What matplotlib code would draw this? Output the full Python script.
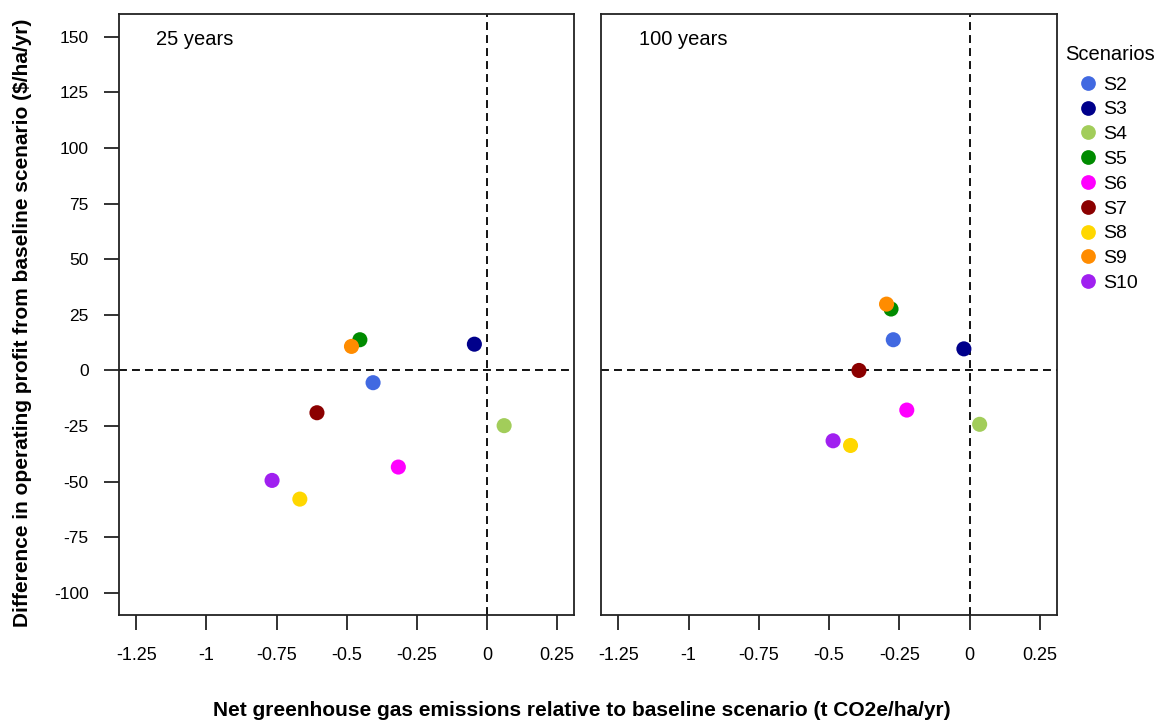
import matplotlib
matplotlib.use("Agg")
import matplotlib.pyplot as plt
from matplotlib.lines import Line2D

plt.rcParams['font.family'] = ['Liberation Sans', 'DejaVu Sans']

scenarios = ["S2", "S3", "S4", "S5", "S6", "S7", "S8", "S9", "S10"]
colors = ["#4169E1", "#00008B", "#A2CD5A", "#008B00", "#FF00FF",
          "#8B0000", "#FFD700", "#FF8C00", "#A020F0"]

# 25 years
ghg_25 = [-0.406, -0.045, 0.061, -0.453, -0.316, -0.606, -0.667, -0.483, -0.766]
profit_25 = [-5.5, 11.8, -24.8, 13.8, -43.4, -19.0, -57.8, 10.8, -49.4]
# 100 years
ghg_100 = [-0.272, -0.021, 0.035, -0.280, -0.224, -0.394, -0.424, -0.296, -0.486]
profit_100 = [13.8, 9.7, -24.2, 27.6, -17.8, 0.0, -33.7, 29.8, -31.6]

xticks = [-1.25, -1.0, -0.75, -0.5, -0.25, 0.0, 0.25]
xticklabels = ["-1.25", "-1", "-0.75", "-0.5", "-0.25", "0", "0.25"]
yticks = [150, 125, 100, 75, 50, 25, 0, -25, -50, -75, -100]
panel_titles = ["25 years", "100 years"]

W, H = 1157, 725
fig = plt.figure(figsize=(W / 100, H / 100), dpi=100)
ax1 = fig.add_axes([119.4 / W, 1 - 615.3 / H, (574 - 119.4) / W, (615.3 - 14.3) / H])
ax2 = fig.add_axes([601.3 / W, 1 - 615.3 / H, (1057 - 601.3) / W, (615.3 - 14.3) / H])

fs = 13
dash = (0, (4.4, 2.8))
for ax, xs, ys, title, tx in [(ax1, ghg_25, profit_25, panel_titles[0], -1.178),
                              (ax2, ghg_100, profit_100, panel_titles[1], -1.176)]:
    ax.set_xlim(-1.31, 0.31)
    ax.set_ylim(-110, 160)
    ax.axhline(0, color="black", lw=1.3, linestyle=dash, zorder=1)
    ax.axvline(0, color="black", lw=1.3, linestyle=dash, zorder=1)
    for x, y, c in zip(xs, ys, colors):
        ax.scatter([x], [y], s=118, color=c, edgecolors="none", zorder=3)
    ax.set_xticks(xticks)
    ax.set_xticklabels(xticklabels, fontsize=fs)
    ax.tick_params(axis="x", length=11, width=1.3, pad=12, direction="out", color="#222222")
    for sp in ax.spines.values():
        sp.set_linewidth(1.3)
        sp.set_color("#222222")
    ax.text(tx, 148.5, title, fontsize=14.5, ha="left", va="center")

ax1.set_yticks(yticks)
ax1.set_yticklabels([str(v) for v in yticks], fontsize=12.5)
ax1.tick_params(axis="y", length=11, width=1.3, pad=11, direction="out", color="#222222")
ax2.set_yticks([])

fig.text(582 / W, 1 - 710 / H,
         "Net greenhouse gas emissions relative to baseline scenario (t CO2e/ha/yr)",
         fontsize=15, fontweight="bold", ha="center", va="center")
fig.text(23 / W, 1 - 323 / H,
         "Difference in operating profit from baseline scenario ($/ha/yr)",
         fontsize=15, fontweight="bold", ha="center", va="center", rotation=90)

fig.text(1065 / W, 1 - 55 / H, "Scenarios", fontsize=14.5, ha="left", va="center")
handles = [Line2D([], [], marker="o", linestyle="none", markersize=10.6,
                  markerfacecolor=c, markeredgecolor="none") for c in colors]
leg = fig.legend(handles, scenarios, loc="upper left",
                 bbox_to_anchor=(1080 / W, 1 - 76 / H), frameon=False,
                 fontsize=14, labelspacing=0.37,
                 handlelength=0.8, handletextpad=0.37, borderpad=0,
                 borderaxespad=0)

fig.savefig("out.png", dpi=100)
